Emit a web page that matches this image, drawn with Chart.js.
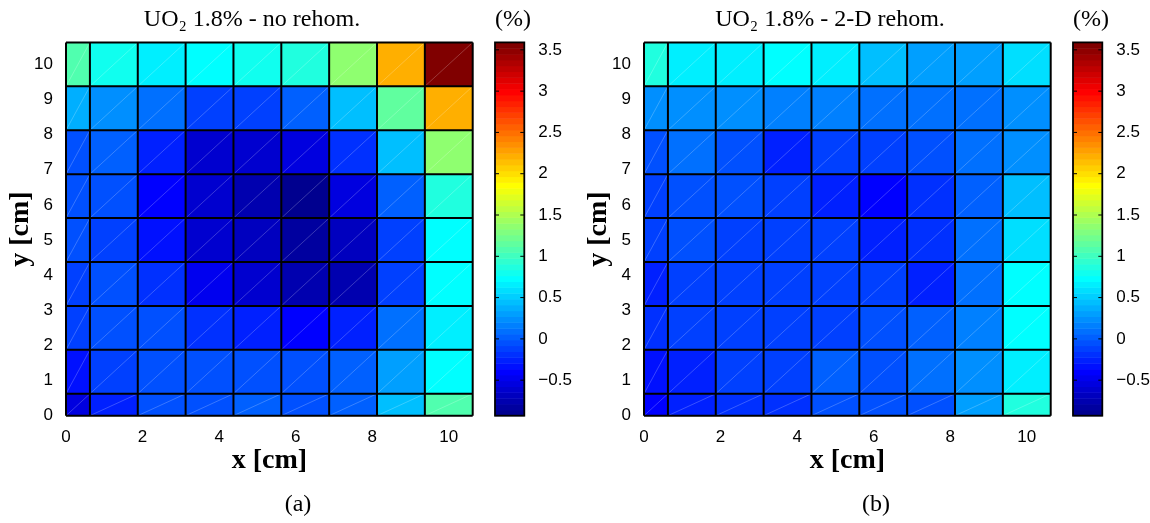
<!DOCTYPE html>
<html>
<head>
<meta charset="utf-8">
<script src="https://cdn.jsdelivr.net/npm/chart.js@4"></script>
<style>
  body { margin: 0; background: #fff; width: 1150px; height: 523px; position: relative; overflow: hidden; }
  canvas { position: absolute; top: 0; }
</style>
</head>
<body>
<canvas id="heatA" width="504" height="523" style="left:0px"></canvas>
<canvas id="barA" width="92" height="523" style="left:480px"></canvas>
<canvas id="heatB" width="504" height="523" style="left:578px"></canvas>
<canvas id="barB" width="92" height="523" style="left:1058px"></canvas>
<script>
// mesh edges (cm): half cell at the origin, then 1.25 cm pitch
const X_EDGES = [0, 0.625, 1.875, 3.125, 4.375, 5.625, 6.875, 8.125, 9.375, 10.625];
const Y_EDGES = [0, 0.625, 1.875, 3.125, 4.375, 5.625, 6.875, 8.125, 9.375, 10.625];
const X_TICKS = [0, 2, 4, 6, 8, 10];
const Y_TICKS = [0, 1, 2, 3, 4, 5, 6, 7, 8, 9, 10];
const CB_TICKS = [-0.5, 0, 0.5, 1, 1.5, 2, 2.5, 3, 3.5];
const CB_MIN = -0.93;
const CB_MAX = 3.59;

// deviation (%) per cell, rows listed top (y ~10) to bottom (y ~0)
const NO_REHOM = [
  [1.05, 0.78, 0.67, 0.76, 0.77, 0.90, 1.33, 2.24, 3.55],
  [0.38, 0.25, 0.12, -0.10, -0.14, 0.03, 0.43, 1.12, 2.24],
  [-0.02, 0.03, -0.28, -0.61, -0.61, -0.57, -0.19, 0.43, 1.33],
  [-0.02, -0.02, -0.37, -0.61, -0.74, -0.88, -0.57, 0.03, 0.90],
  [-0.04, -0.14, -0.30, -0.61, -0.70, -0.83, -0.70, -0.14, 0.76],
  [-0.14, -0.04, -0.19, -0.45, -0.61, -0.72, -0.74, -0.14, 0.76],
  [-0.10, -0.04, -0.06, -0.19, -0.28, -0.37, -0.28, 0.08, 0.67],
  [-0.30, -0.10, -0.02, -0.04, -0.06, -0.02, 0.03, 0.29, 0.74],
  [-0.52, -0.28, -0.06, -0.06, 0.03, -0.02, 0.03, 0.43, 1.08]
];
const REHOM_2D = [
  [0.90, 0.67, 0.67, 0.76, 0.63, 0.47, 0.34, 0.34, 0.60],
  [0.23, 0.21, 0.21, 0.16, 0.16, 0.08, 0.08, 0.12, 0.25],
  [-0.02, 0.08, -0.02, -0.23, -0.14, -0.10, -0.06, 0.08, 0.25],
  [-0.14, -0.06, -0.06, -0.14, -0.28, -0.38, -0.19, 0.03, 0.47],
  [-0.14, -0.06, -0.14, -0.14, -0.14, -0.23, -0.19, 0.12, 0.60],
  [-0.23, -0.14, -0.14, -0.14, -0.14, -0.14, -0.25, 0.12, 0.76],
  [-0.19, -0.14, -0.14, -0.14, -0.14, -0.02, 0.03, 0.16, 0.70],
  [-0.32, -0.23, -0.14, -0.14, 0.03, -0.02, 0.08, 0.21, 0.65],
  [-0.38, -0.28, -0.19, -0.19, -0.06, -0.06, -0.02, 0.29, 0.90]
];

const SERIF = "'Liberation Serif', 'Times New Roman', serif";
const SANS = "'Liberation Sans', Arial, sans-serif";
Chart.defaults.font.family = SANS;
Chart.defaults.color = '#000';

// matlab jet(64)
function jetMap(m) {
  const n = Math.ceil(m / 4);
  const u = [];
  for (let i = 1; i <= n; i++) u.push(i / n);
  for (let i = 1; i < n; i++) u.push(1);
  for (let i = n; i >= 1; i--) u.push(i / n);
  const g0 = Math.ceil(n / 2) - (m % 4 === 1 ? 1 : 0);
  const J = Array.from({ length: m }, () => [0, 0, 0]);
  u.forEach((val, i) => {
    const g = g0 + i + 1, r = g + n, b = g - n;
    if (g >= 1 && g <= m) J[g - 1][1] = val;
    if (r <= m) J[r - 1][0] = val;
    if (b >= 1) J[b - 1][2] = val;
  });
  return J.map(c => `rgb(${c.map(v => Math.round(v * 255)).join(',')})`);
}
const JET = jetMap(64);

function colorOf(v) {
  let k = Math.floor((v - CB_MIN) / (CB_MAX - CB_MIN) * JET.length);
  return JET[Math.max(0, Math.min(JET.length - 1, k))];
}

function cellLayer(values, tag) {
  return {
    id: 'cells',
    beforeDatasetsDraw(chart) {
      const { ctx, chartArea: a, scales: { x, y } } = chart;
      ctx.save();
      values.forEach((row, r) => {
        const j = values.length - 1 - r;
        row.forEach((v, i) => {
          const x0 = x.getPixelForValue(X_EDGES[i]), x1 = x.getPixelForValue(X_EDGES[i + 1]);
          const y0 = y.getPixelForValue(Y_EDGES[j]), y1 = y.getPixelForValue(Y_EDGES[j + 1]);
          ctx.fillStyle = colorOf(v);
          ctx.fillRect(x0, y1, x1 - x0, y0 - y1);
          // faint triangulation edge
          ctx.strokeStyle = 'rgba(255,255,255,0.28)';
          ctx.lineWidth = 0.8;
          ctx.beginPath();
          ctx.moveTo(x0, y0);
          ctx.lineTo(x1, y1);
          ctx.stroke();
        });
      });
      ctx.strokeStyle = '#000';
      ctx.lineWidth = 2;
      ctx.beginPath();
      X_EDGES.forEach(e => {
        const p = x.getPixelForValue(e);
        ctx.moveTo(p, a.top);
        ctx.lineTo(p, a.bottom);
      });
      Y_EDGES.forEach(e => {
        const p = y.getPixelForValue(e);
        ctx.moveTo(a.left, p);
        ctx.lineTo(a.right, p);
      });
      ctx.stroke();
      ctx.restore();
    },
    afterDraw(chart) {
      const { ctx, chartArea: a } = chart;
      ctx.save();
      ctx.font = `24px ${SERIF}`;
      ctx.fillStyle = '#000';
      ctx.textAlign = 'center';
      ctx.textBaseline = 'middle';
      ctx.fillText(tag, a.left + 232, 505);
      ctx.restore();
    }
  };
}

const barLayer = {
  id: 'colorbar',
  beforeDatasetsDraw(chart) {
    const { ctx, chartArea: a, scales: { y } } = chart;
    const step = (CB_MAX - CB_MIN) / JET.length;
    ctx.save();
    JET.forEach((c, k) => {
      const top = y.getPixelForValue(CB_MIN + (k + 1) * step);
      const bot = y.getPixelForValue(CB_MIN + k * step);
      ctx.fillStyle = c;
      ctx.fillRect(a.left, top, a.right - a.left, bot - top + 0.5);
    });
    ctx.strokeStyle = '#000';
    ctx.lineWidth = 1.8;
    ctx.strokeRect(a.left, a.top, a.right - a.left, a.bottom - a.top);
    ctx.lineWidth = 1;
    ctx.beginPath();
    y.ticks.forEach(t => {
      const p = y.getPixelForValue(t.value);
      ctx.moveTo(a.left, p); ctx.lineTo(a.left + 4, p);
      ctx.moveTo(a.right - 4, p); ctx.lineTo(a.right, p);
    });
    ctx.stroke();
    ctx.restore();
  }
};

const titleFont = { family: SERIF, size: 24, weight: 'normal' };
const labelFont = { family: SERIF, size: 28, weight: 'bold' };
const tickFont = { family: SANS, size: 17 };

function heatChart(id, values, title, tag) {
  return new Chart(document.getElementById(id), {
    type: 'scatter',
    data: { datasets: [] },
    options: {
      responsive: false,
      animation: false,
      events: [],
      // left padding keeps the title box centred where the figure has it
      layout: { padding: { left: 31.3, right: 31.3, top: 0, bottom: 40 } },
      plugins: {
        legend: { display: false },
        tooltip: { enabled: false },
        title: { display: true, text: title, font: titleFont, padding: { top: 5.6, bottom: 8 } }
      },
      scales: {
        x: {
          type: 'linear',
          min: X_EDGES[0],
          max: X_EDGES[X_EDGES.length - 1],
          afterBuildTicks: ax => { ax.ticks = X_TICKS.map(value => ({ value })); },
          afterFit: ax => { ax.height = 67.3; },
          grid: { display: false },
          border: { display: false },
          ticks: { padding: 3, font: tickFont },
          title: { display: true, text: 'x [cm]', font: labelFont, padding: { bottom: 5.5 } }
        },
        y: {
          type: 'linear',
          min: Y_EDGES[0],
          max: Y_EDGES[Y_EDGES.length - 1],
          afterBuildTicks: ax => { ax.ticks = Y_TICKS.map(value => ({ value })); },
          afterFit: ax => { ax.width = 34.7; },
          grid: { display: false },
          border: { display: false },
          ticks: { padding: 5, font: tickFont },
          title: { display: true, text: 'y [cm]', font: labelFont, padding: { top: -27.1 } }
        }
      }
    },
    plugins: [cellLayer(values, tag)]
  });
}

function colorbar(id) {
  return new Chart(document.getElementById(id), {
    type: 'scatter',
    data: { datasets: [] },
    options: {
      responsive: false,
      animation: false,
      events: [],
      layout: { padding: { left: 15, right: 0, top: 0, bottom: 107.3 } },
      plugins: {
        legend: { display: false },
        tooltip: { enabled: false },
        title: { display: true, text: '(%)', align: 'start', font: titleFont, padding: { top: 5.6, bottom: 8 } }
      },
      scales: {
        x: { display: false, min: 0, max: 1 },
        y: {
          position: 'right',
          min: CB_MIN,
          max: CB_MAX,
          afterBuildTicks: ax => { ax.ticks = CB_TICKS.map(value => ({ value })); },
          afterFit: ax => { ax.width = 47.7; },
          grid: { display: false },
          border: { display: false },
          ticks: { padding: 6, font: tickFont, callback: v => String(v).replace('-', '\u2212') }
        }
      }
    },
    plugins: [barLayer]
  });
}

heatChart('heatA', NO_REHOM, 'UO\u2082 1.8% - no rehom.', '(a)');
colorbar('barA');
heatChart('heatB', REHOM_2D, 'UO\u2082 1.8% - 2-D rehom.', '(b)');
colorbar('barB');
</script>
</body>
</html>
